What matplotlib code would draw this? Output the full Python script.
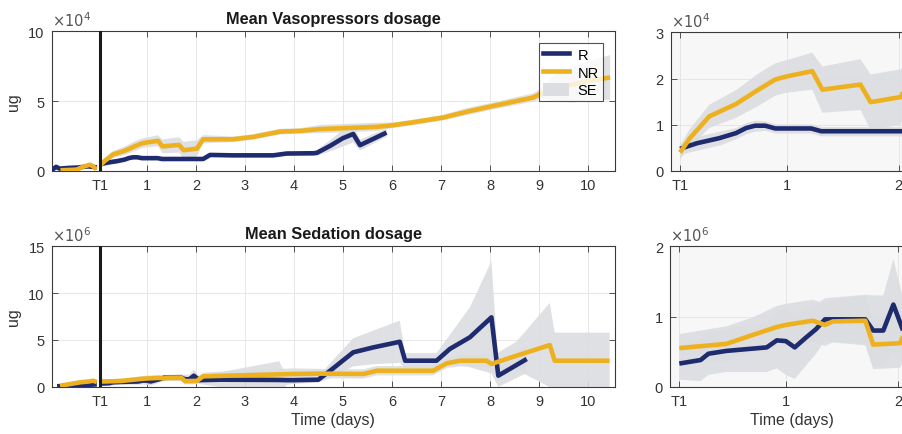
import numpy as np
import matplotlib
matplotlib.use("Agg")
import matplotlib.pyplot as plt
from matplotlib.patches import Patch
from matplotlib.lines import Line2D

plt.rcParams['font.family'] = ['Liberation Sans', 'DejaVu Sans']

nan = np.nan
# ---------------- Vasopressors (units of 1e4 ug) ----------------
vaso_r_days = [-0.94, -0.85, -0.78, -0.6, -0.4, -0.2, -0.1, -0.02, nan,
               0.05, 0.2, 0.4, 0.55, 0.64, 0.72, 0.81, 0.9, 1.22, 1.31, 2.15, 2.29,
               2.76, 3.58, 3.85, 4.4, 4.47, 4.74, 5.0, 5.21, 5.35, 5.89]
vaso_r_vals = [0.05, 0.3, 0.17, 0.22, 0.25, 0.33, 0.3, 0.25, nan,
               0.48, 0.6, 0.71, 0.82, 0.93, 0.98, 0.98, 0.92, 0.92, 0.86, 0.86, 1.15,
               1.12, 1.12, 1.25, 1.27, 1.3, 1.8, 2.35, 2.65, 1.85, 2.75]
vaso_r_se = [0.08, 0.1, 0.1, 0.1, 0.1, 0.1, 0.1, 0.1, nan,
             0.12, 0.15, 0.15, 0.12, 0.12, 0.12, 0.1, 0.1, 0.1, 0.1, 0.1, 0.12,
             0.12, 0.12, 0.15, 0.15, 0.2, 0.4, 0.6, 0.6, 0.4, 0.3]

vaso_nr_days = [-0.76, -0.55, -0.43, -0.3, -0.16, -0.1, -0.03, nan,
                0.05, 0.138, 0.31, 0.55, 0.75, 0.9, 0.99, 1.23, 1.32, 1.66, 1.75, 2.02,
                2.15, 2.76, 3.17, 3.72, 4.13, 4.53, 5.69, 6.03, 6.5, 7.05, 7.52, 8.07,
                8.88, 9.09, 9.3, 9.7, 10.0, 10.45]
vaso_nr_vals = [0.05, 0.08, 0.1, 0.3, 0.45, 0.35, 0.12, nan,
                0.40, 0.71, 1.18, 1.45, 1.76, 1.98, 2.04, 2.16, 1.76, 1.87, 1.49, 1.6,
                2.27, 2.27, 2.44, 2.82, 2.87, 3.0, 3.16, 3.28, 3.52, 3.83, 4.24, 4.66,
                5.26, 5.62, 5.9, 6.2, 6.45, 6.7]
vaso_nr_se = [0.08, 0.08, 0.1, 0.1, 0.1, 0.1, 0.1, nan,
              0.15, 0.2, 0.25, 0.3, 0.35, 0.35, 0.35, 0.4, 0.5, 0.55, 0.6, 0.6,
              0.3, 0.2, 0.2, 0.2, 0.2, 0.3, 0.3, 0.2, 0.2, 0.2, 0.25, 0.25,
              0.3, 0.4, 0.9, 1.3, 1.4, 1.6]

# ---------------- Sedation (units of 1e6 ug) ----------------
sed_r_days = [-0.83, -0.5, -0.2, -0.02, nan,
              0.05, 0.24, 0.31, 0.47, 0.83, 0.92, 1.0, 1.08, 1.18, 1.27, 1.35, 1.71,
              1.78, 1.87, 1.96, 2.07, 2.5, 3.7, 3.85, 4.0, 4.5, 4.74, 5.21, 5.62, 6.16,
              6.27, 6.91, 7.18, 7.59, 8.03, 8.17, 8.75]
sed_r_vals = [0.05, 0.1, 0.2, 0.25, nan,
              0.33, 0.38, 0.47, 0.51, 0.56, 0.66, 0.65, 0.56, 0.70, 0.82, 0.96, 0.96,
              0.80, 0.80, 1.17, 0.7, 0.75, 0.72, 0.7, 0.7, 0.75, 1.71, 3.67, 4.2, 4.8,
              2.78, 2.78, 4.03, 5.28, 7.41, 1.18, 2.96]
sed_r_se = [0.05, 0.05, 0.08, 0.1, nan,
            0.23, 0.3, 0.3, 0.3, 0.35, 0.4, 0.48, 0.45, 0.4, 0.35, 0.3, 0.35,
            0.5, 0.5, 0.65, 0.4, 0.8, 2.0, 0.5, 0.4, 0.3, 0.8, 1.5, 1.8, 2.25,
            0.8, 0.8, 1.5, 3.2, 6.0, 1.2, 1.5]

sed_nr_days = [-0.77, -0.55, -0.36, -0.2, -0.09, -0.02, nan,
               0.05, 0.47, 0.71, 0.92, 1.0, 1.24, 1.35, 1.42, 1.71, 1.78, 2.02, 2.15,
               3.99, 4.53, 5.42, 5.69, 6.84, 7.12, 7.39, 7.93, 8.03, 8.54, 9.22, 9.32,
               10.44]
sed_nr_vals = [0.1, 0.3, 0.47, 0.55, 0.64, 0.5, nan,
               0.55, 0.61, 0.74, 0.85, 0.88, 0.94, 0.88, 0.93, 0.94, 0.60, 0.62, 1.11,
               1.36, 1.4, 1.36, 1.71, 1.71, 2.5, 2.78, 2.78, 2.43, 3.31, 4.45, 2.78,
               2.78]
sed_nr_se = [0.05, 0.08, 0.1, 0.1, 0.1, 0.1, nan,
             0.2, 0.25, 0.25, 0.3, 0.3, 0.3, 0.3, 0.3, 0.35, 0.35, 0.35, 0.4,
             0.6, 0.5, 0.5, 0.5, 0.5, 0.5, 0.6, 0.7, 0.8, 1.5, 4.5, 3.0,
             3.0]

t1_day = 0.05
left_ticks = [0.05, 1, 2, 3, 4, 5, 6, 7, 8, 9, 10]
left_labels = ['T1', '1', '2', '3', '4', '5', '6', '7', '8', '9', '10']
right_ticks = [0.05, 1, 2]
right_labels = ['T1', '1', '2']

C_R = '#1f2b6f'
C_NR = '#edb120'
C_SE = '#dcdde0'
C_AX = '#3a3a3a'

fig = plt.figure(figsize=(9.02, 4.35), dpi=100)
ax1 = fig.add_axes([0.0573, 0.6046, 0.6245, 0.3211])
ax2 = fig.add_axes([0.0573, 0.1087, 0.6245, 0.3228])
ax3 = fig.add_axes([0.7436, 0.6046, 0.27, 0.3188])
ax4 = fig.add_axes([0.7428, 0.1087, 0.27, 0.3228])


def draw(ax, rd, rv, rs, nd, nv, ns, post_only=False):
    series = []
    for d, v, s in ((nd, nv, ns), (rd, rv, rs)):
        d, v, s = map(np.asarray, (d, v, s))
        if post_only:
            m = d >= t1_day
            d, v, s = d[m], v[m], s[m]
        series.append((d, v, s))
    for d, v, s in series:
        ax.fill_between(d, v - s, v + s, color=C_SE, lw=0, zorder=1, alpha=0.9)
    (nd, nv, _), (rd, rv, _) = series
    ax.plot(rd, rv, color=C_R, lw=3.3, zorder=3, solid_capstyle='butt')
    ax.plot(nd, nv, color=C_NR, lw=3.3, zorder=4, solid_capstyle='butt')


def style(ax, ylim, yticks, exp, xlim, xt, xl, bg='white'):
    ax.set_facecolor(bg)
    ax.set_xlim(*xlim)
    ax.set_ylim(*ylim)
    ax.set_yticks(yticks)
    ax.set_yticklabels([f'{t:g}' for t in yticks])
    ax.set_xticks(xt)
    ax.set_xticklabels(xl)
    ax.grid(True, color='#e3e3e3', lw=0.6, zorder=0)
    ax.set_axisbelow(True)
    ax.tick_params(direction='in', top=True, right=True, length=4, width=0.6,
                   colors=C_AX, labelsize=10.5, pad=5, labelcolor='#333333')
    for s in ax.spines.values():
        s.set_color(C_AX)
        s.set_linewidth(0.8)
    ax.text(0.0, 1.015, r'$\times10^{%d}$' % exp, transform=ax.transAxes,
            fontsize=10.5, color='#555555', ha='left', va='bottom')


draw(ax1, vaso_r_days, vaso_r_vals, vaso_r_se, vaso_nr_days, vaso_nr_vals, vaso_nr_se)
draw(ax3, vaso_r_days, vaso_r_vals, vaso_r_se, vaso_nr_days, vaso_nr_vals, vaso_nr_se,
     post_only=True)
draw(ax2, sed_r_days, sed_r_vals, sed_r_se, sed_nr_days, sed_nr_vals, sed_nr_se)
draw(ax4, sed_r_days, sed_r_vals, sed_r_se, sed_nr_days, sed_nr_vals, sed_nr_se,
     post_only=True)

style(ax1, (0, 10), [0, 5, 10], 4, (-0.94, 10.55), left_ticks, left_labels)
style(ax2, (0, 15), [0, 5, 10, 15], 6, (-0.94, 10.55), left_ticks, left_labels)
style(ax3, (0, 3), [0, 1, 2, 3], 4, (-0.033, 2.14), right_ticks, right_labels, bg='#f7f7f7')
style(ax4, (0, 2), [0, 1, 2], 6, (-0.033, 2.14), right_ticks, right_labels, bg='#f7f7f7')

for ax in (ax1, ax2):
    ax.axvline(t1_day, color='#1a1a1a', lw=2.2, zorder=6)
    ax.set_ylabel('ug', fontsize=11.5, color='#333333', labelpad=5)

ax1.set_title('Mean Vasopressors dosage', fontsize=11.8, fontweight='bold',
              color='#1a1a1a', pad=6)
ax2.set_title('Mean Sedation dosage', fontsize=11.8, fontweight='bold',
              color='#1a1a1a', pad=6)
ax2.set_xlabel('Time (days)', fontsize=11.5, color='#333333', labelpad=3)
ax4.set_xlabel('Time (days)', fontsize=11.5, color='#333333', labelpad=3)

handles = [Line2D([], [], color=C_R, lw=3.3),
           Line2D([], [], color=C_NR, lw=3.3),
           Patch(facecolor=C_SE, edgecolor='none')]
leg = ax1.legend(handles, ['R', 'NR', 'SE'], loc='upper right',
                 bbox_to_anchor=(1 - 12 / 563, 1 - 12 / 140), borderaxespad=0,
                 fontsize=10.5, frameon=True, fancybox=False, handlelength=1.8,
                 handletextpad=0.55, labelspacing=0.2, borderpad=0.3,
                 handleheight=1.0)
leg.get_frame().set_edgecolor('#262626')
leg.get_frame().set_linewidth(0.8)
leg.set_zorder(10)

fig.savefig('out.png', dpi=100)
